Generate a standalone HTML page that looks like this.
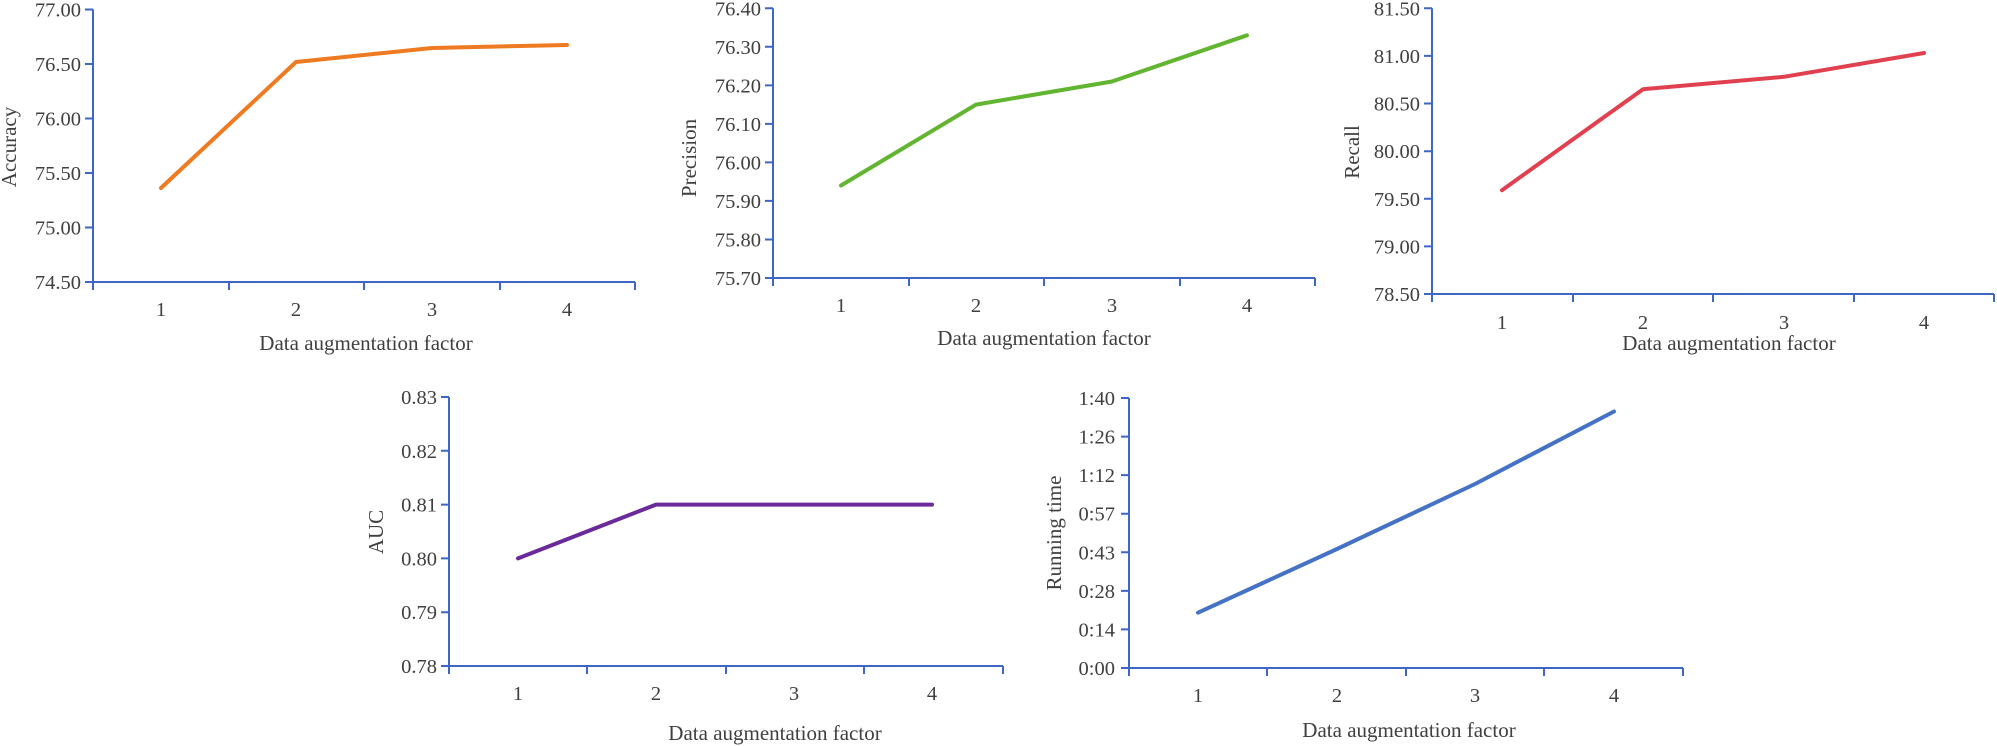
<!DOCTYPE html>
<html><head><meta charset="utf-8"><style>
html,body{margin:0;padding:0;background:#fff;}
svg{display:block;}
text{font-family:"Liberation Serif",serif;fill:#404040;}
.t{font-size:20.5px;}
.ti{font-size:21px;}
.a{stroke:#3d66c6;stroke-width:2;fill:none;}
.l{fill:none;stroke-width:4;stroke-linejoin:round;stroke-linecap:round;}
</style></head><body>
<svg width="1997" height="746" viewBox="0 0 1997 746" xmlns="http://www.w3.org/2000/svg">
<!-- Chart 1 Accuracy -->
<g>
<path class="a" d="M93,9.5V282H635 M85,9.5H93 M85,64H93 M85,118.5H93 M85,173H93 M85,227.5H93 M85,282H93 M93,282v8 M229,282v8 M364,282v8 M500,282v8 M635,282v8"/>
<g class="t" text-anchor="end">
<text x="81" y="16.5">77.00</text><text x="81" y="71">76.50</text><text x="81" y="125.5">76.00</text><text x="81" y="180">75.50</text><text x="81" y="234.5">75.00</text><text x="81" y="289">74.50</text></g>
<g class="t" text-anchor="middle"><text x="161" y="316">1</text><text x="296" y="316">2</text><text x="432" y="316">3</text><text x="567" y="316">4</text></g>
<text class="ti" x="366" y="350" text-anchor="middle">Data augmentation factor</text>
<text class="ti" transform="translate(16,147) rotate(-90)" text-anchor="middle">Accuracy</text>
<polyline class="l" stroke="#ee7a22" points="161,188 296,62 432,48 567,45"/>
</g>
<!-- Chart 2 Precision -->
<g>
<path class="a" d="M773,8.3V278H1315 M765,8.3H773 M765,46.8H773 M765,85.4H773 M765,123.9H773 M765,162.4H773 M765,200.9H773 M765,239.5H773 M765,278H773 M773,278v8 M909,278v8 M1044,278v8 M1180,278v8 M1315,278v8"/>
<g class="t" text-anchor="end">
<text x="761" y="15.3">76.40</text><text x="761" y="53.8">76.30</text><text x="761" y="92.4">76.20</text><text x="761" y="130.9">76.10</text><text x="761" y="169.4">76.00</text><text x="761" y="207.9">75.90</text><text x="761" y="246.5">75.80</text><text x="761" y="285">75.70</text></g>
<g class="t" text-anchor="middle"><text x="841" y="312">1</text><text x="976" y="312">2</text><text x="1112" y="312">3</text><text x="1247" y="312">4</text></g>
<text class="ti" x="1044" y="345" text-anchor="middle">Data augmentation factor</text>
<text class="ti" transform="translate(696,158) rotate(-90)" text-anchor="middle">Precision</text>
<polyline class="l" stroke="#62b530" points="841,185.5 976,104.6 1112,81.5 1247,35.3"/>
</g>
<!-- Chart 3 Recall -->
<g>
<path class="a" d="M1432,8.3V294H1994 M1424,8.3H1432 M1424,55.9H1432 M1424,103.5H1432 M1424,151.2H1432 M1424,198.8H1432 M1424,246.4H1432 M1424,294H1432 M1432,294v8 M1573,294v8 M1713,294v8 M1854,294v8 M1994,294v8"/>
<g class="t" text-anchor="end">
<text x="1420" y="15.3">81.50</text><text x="1420" y="62.9">81.00</text><text x="1420" y="110.5">80.50</text><text x="1420" y="158.2">80.00</text><text x="1420" y="205.8">79.50</text><text x="1420" y="253.4">79.00</text><text x="1420" y="301">78.50</text></g>
<g class="t" text-anchor="middle"><text x="1502" y="329">1</text><text x="1643" y="329">2</text><text x="1784" y="329">3</text><text x="1924" y="329">4</text></g>
<text class="ti" x="1729" y="350" text-anchor="middle">Data augmentation factor</text>
<text class="ti" transform="translate(1359,152) rotate(-90)" text-anchor="middle">Recall</text>
<polyline class="l" stroke="#e0404f" points="1502,190.2 1643,89.2 1784,76.8 1924,53"/>
</g>
<!-- Chart 4 AUC -->
<g>
<path class="a" d="M449,397V666H1003 M441,397H449 M441,450.8H449 M441,504.6H449 M441,558.4H449 M441,612.2H449 M441,666H449 M449,666v8 M587,666v8 M726,666v8 M864,666v8 M1003,666v8"/>
<g class="t" text-anchor="end">
<text x="437" y="404">0.83</text><text x="437" y="457.8">0.82</text><text x="437" y="511.6">0.81</text><text x="437" y="565.4">0.80</text><text x="437" y="619.2">0.79</text><text x="437" y="673">0.78</text></g>
<g class="t" text-anchor="middle"><text x="518" y="700">1</text><text x="656" y="700">2</text><text x="794" y="700">3</text><text x="932" y="700">4</text></g>
<text class="ti" x="775" y="740" text-anchor="middle">Data augmentation factor</text>
<text class="ti" transform="translate(383,532) rotate(-90)" text-anchor="middle">AUC</text>
<polyline class="l" stroke="#6a2a9a" points="518,558.4 656,504.6 794,504.6 932,504.6"/>
</g>
<!-- Chart 5 Running time -->
<g>
<path class="a" d="M1129,398V668H1683 M1121,398H1129 M1121,436.6H1129 M1121,475.1H1129 M1121,513.7H1129 M1121,552.3H1129 M1121,590.9H1129 M1121,629.4H1129 M1121,668H1129 M1129,668v8 M1267,668v8 M1406,668v8 M1544,668v8 M1683,668v8"/>
<g class="t" text-anchor="end">
<text x="1115" y="405">1:40</text><text x="1115" y="443.6">1:26</text><text x="1115" y="482.1">1:12</text><text x="1115" y="520.7">0:57</text><text x="1115" y="559.3">0:43</text><text x="1115" y="597.9">0:28</text><text x="1115" y="636.4">0:14</text><text x="1115" y="675">0:00</text></g>
<g class="t" text-anchor="middle"><text x="1198" y="702">1</text><text x="1337" y="702">2</text><text x="1475" y="702">3</text><text x="1614" y="702">4</text></g>
<text class="ti" x="1409" y="737" text-anchor="middle">Data augmentation factor</text>
<text class="ti" transform="translate(1061,533) rotate(-90)" text-anchor="middle">Running time</text>
<polyline class="l" stroke="#4472c4" points="1198,612.7 1337,549 1475,484 1614,411.5"/>
</g>
</svg>
</body></html>
